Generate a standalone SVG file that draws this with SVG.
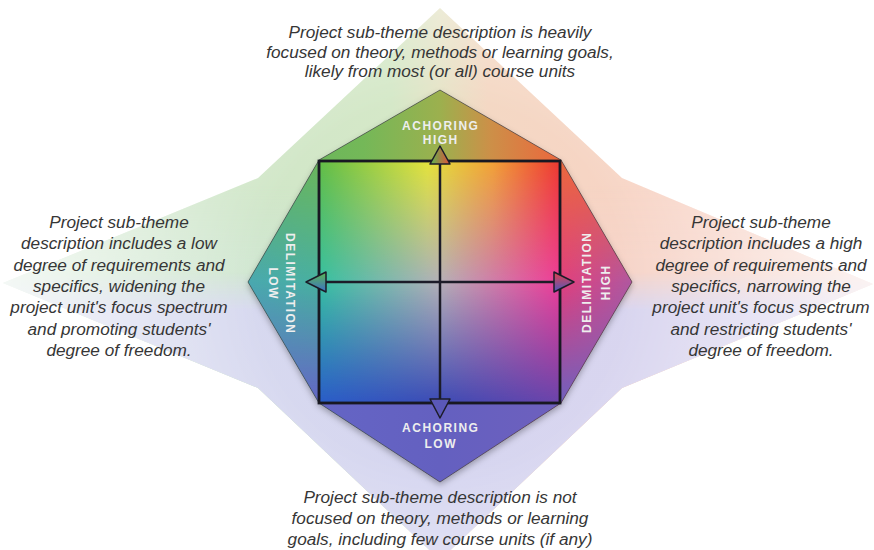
<svg xmlns="http://www.w3.org/2000/svg" width="874" height="550" viewBox="0 0 874 550">
<defs>
<style>
.body{font-family:"Liberation Sans",Arial,sans-serif;font-style:italic;font-size:17.2px;fill:#363636;text-anchor:middle}
.lab{font-family:"Liberation Sans",Arial,sans-serif;font-weight:bold;font-size:12px;letter-spacing:1.5px;fill:#eeeeee;text-anchor:middle}
.ax{stroke:#1c1c28;stroke-width:2.5;fill:none}
.ah{stroke:#1c1c28;stroke-width:1.5;stroke-linejoin:round}
.frame{fill:none;stroke:#181822;stroke-width:2.8}
.edge{fill:none;stroke:#3a3a44;stroke-width:1;stroke-opacity:0.6}
</style>
<linearGradient id="sqTop" gradientUnits="userSpaceOnUse" x1="319" y1="0" x2="560" y2="0">
<stop offset="0" stop-color="#62bd46"/><stop offset="0.45" stop-color="#e4e33c"/><stop offset="0.72" stop-color="#f2a236"/><stop offset="1" stop-color="#ee3830"/>
</linearGradient>
<linearGradient id="sqMid" gradientUnits="userSpaceOnUse" x1="319" y1="0" x2="560" y2="0">
<stop offset="0" stop-color="#36c0a2"/><stop offset="0.5" stop-color="#b4b0b8"/><stop offset="1" stop-color="#ee3c98"/>
</linearGradient>
<linearGradient id="sqBot" gradientUnits="userSpaceOnUse" x1="319" y1="0" x2="560" y2="0">
<stop offset="0" stop-color="#2a5cc8"/><stop offset="0.5" stop-color="#3c4ab4"/><stop offset="1" stop-color="#6a44aa"/>
</linearGradient>
<linearGradient id="dTop" gradientUnits="userSpaceOnUse" x1="248" y1="0" x2="632" y2="0">
<stop offset="0" stop-color="#60b460"/><stop offset="0.3" stop-color="#74b858"/><stop offset="0.5" stop-color="#9cb04e"/><stop offset="0.63" stop-color="#cc9048"/><stop offset="0.8" stop-color="#ea6a3e"/><stop offset="1" stop-color="#f0603c"/>
</linearGradient>
<linearGradient id="dMid" gradientUnits="userSpaceOnUse" x1="248" y1="0" x2="632" y2="0">
<stop offset="0" stop-color="#4aa8b0"/><stop offset="0.18" stop-color="#48b0a0"/><stop offset="0.82" stop-color="#e0407e"/><stop offset="1" stop-color="#b058a0"/>
</linearGradient>
<linearGradient id="dBot" gradientUnits="userSpaceOnUse" x1="248" y1="0" x2="632" y2="0">
<stop offset="0" stop-color="#6468c8"/><stop offset="0.5" stop-color="#6460c0"/><stop offset="1" stop-color="#7460bc"/>
</linearGradient>
<linearGradient id="sTop" gradientUnits="userSpaceOnUse" x1="200" y1="0" x2="680" y2="0">
<stop offset="0" stop-color="#cfe6c8"/><stop offset="0.4" stop-color="#d5e8c8"/><stop offset="0.5" stop-color="#e6e4c8"/><stop offset="0.6" stop-color="#f4d8c4"/><stop offset="1" stop-color="#f8d2c4"/>
</linearGradient>
<linearGradient id="sMid" gradientUnits="userSpaceOnUse" x1="3" y1="0" x2="873" y2="0">
<stop offset="0" stop-color="#d6ead6"/><stop offset="0.35" stop-color="#d0e6d0"/><stop offset="0.65" stop-color="#f6d4c8"/><stop offset="1" stop-color="#f6d6cc"/>
</linearGradient>
<linearGradient id="sBot" gradientUnits="userSpaceOnUse" x1="3" y1="0" x2="873" y2="0">
<stop offset="0" stop-color="#d8dcee"/><stop offset="0.5" stop-color="#d6d6f0"/><stop offset="1" stop-color="#dcd4ee"/>
</linearGradient>
<linearGradient id="rMid" gradientUnits="userSpaceOnUse" x1="0" y1="161" x2="0" y2="282"><stop offset="0" stop-color="#000"/><stop offset="1" stop-color="#fff"/></linearGradient>
<linearGradient id="rBot" gradientUnits="userSpaceOnUse" x1="0" y1="282" x2="0" y2="403"><stop offset="0" stop-color="#000"/><stop offset="1" stop-color="#fff"/></linearGradient>
<linearGradient id="rsMid" gradientUnits="userSpaceOnUse" x1="0" y1="185" x2="0" y2="262"><stop offset="0" stop-color="#000"/><stop offset="1" stop-color="#fff"/></linearGradient>
<linearGradient id="rsBot" gradientUnits="userSpaceOnUse" x1="0" y1="272" x2="0" y2="310"><stop offset="0" stop-color="#000"/><stop offset="1" stop-color="#fff"/></linearGradient>
<radialGradient id="rFade" gradientUnits="userSpaceOnUse" cx="440" cy="284" r="440">
<stop offset="0" stop-color="#fff"/><stop offset="0.42" stop-color="#fff"/><stop offset="1" stop-color="#444"/>
</radialGradient>
<mask id="mMid" maskUnits="userSpaceOnUse" x="0" y="0" width="874" height="550"><rect width="874" height="550" fill="url(#rMid)"/></mask>
<mask id="mBot" maskUnits="userSpaceOnUse" x="0" y="0" width="874" height="550"><rect width="874" height="550" fill="url(#rBot)"/></mask>
<mask id="msMid" maskUnits="userSpaceOnUse" x="0" y="0" width="874" height="550"><rect width="874" height="550" fill="url(#rsMid)"/></mask>
<mask id="msBot" maskUnits="userSpaceOnUse" x="0" y="0" width="874" height="550"><rect width="874" height="550" fill="url(#rsBot)"/></mask>
<mask id="mFade" maskUnits="userSpaceOnUse" x="0" y="0" width="874" height="550"><rect width="874" height="550" fill="url(#rFade)"/></mask>
<clipPath id="cStar"><polygon points="440,8 622,178 873,284 622,388 440,560 258,388 3,283 258,178"/></clipPath>
<clipPath id="cDia"><polygon points="440,90 561,160 632,282 561,403 440,482 319,403 248,282 319,160"/></clipPath>
<clipPath id="cSq"><rect x="319" y="161" width="241" height="242"/></clipPath>
<filter id="shadow" x="-20%" y="-20%" width="140%" height="140%"><feDropShadow dx="0" dy="3" stdDeviation="3" flood-color="#000" flood-opacity="0.3"/></filter>
<linearGradient id="aUp" x1="0" y1="0" x2="1" y2="0"><stop offset="0" stop-color="#5cb850"/><stop offset="1" stop-color="#e0503a"/></linearGradient>
<linearGradient id="aLeft" x1="0" y1="0" x2="0" y2="1"><stop offset="0" stop-color="#5cb850"/><stop offset="1" stop-color="#3a70c8"/></linearGradient>
<linearGradient id="aRight" x1="0" y1="0" x2="0" y2="1"><stop offset="0" stop-color="#e8404a"/><stop offset="1" stop-color="#4a58c0"/></linearGradient>
</defs>

<g id="star" mask="url(#mFade)">
<g clip-path="url(#cStar)">
<rect width="874" height="550" fill="url(#sTop)"/>
<rect width="874" height="550" fill="url(#sMid)" mask="url(#msMid)"/>
<rect width="874" height="550" fill="url(#sBot)" mask="url(#msBot)"/>
</g>
</g>

<g id="diamond">
<polygon points="440,90 561,160 632,282 561,403 440,482 319,403 248,282 319,160" fill="#666" filter="url(#shadow)"/>
<g clip-path="url(#cDia)">
<rect x="240" y="80" width="400" height="410" fill="url(#dTop)"/>
<rect x="240" y="80" width="400" height="410" fill="url(#dMid)" mask="url(#mMid)"/>
<rect x="240" y="80" width="400" height="410" fill="url(#dBot)" mask="url(#mBot)"/>
</g>
<polygon class="edge" points="440,90 561,160 632,282 561,403 440,482 319,403 248,282 319,160"/>
</g>

<g id="matrix">
<g clip-path="url(#cSq)">
<rect x="319" y="161" width="241" height="242" fill="url(#sqTop)"/>
<rect x="319" y="161" width="241" height="242" fill="url(#sqMid)" mask="url(#mMid)"/>
<rect x="319" y="161" width="241" height="242" fill="url(#sqBot)" mask="url(#mBot)"/>
</g>
<rect class="frame" x="319" y="161" width="241" height="242"/>
</g>

<g id="connectors">
<line class="ax" x1="440" y1="162" x2="440" y2="402"/>
<line class="ax" x1="320" y1="282" x2="559" y2="282"/>
<polygon class="ah" points="440,146 430,164 450,164" fill="url(#aUp)"/>
<polygon class="ah" points="440,418 430,399 450,399" fill="#5a58b8"/>
<polygon class="ah" points="306,282 326,272 326,292" fill="url(#aLeft)"/>
<polygon class="ah" points="574,282 554,272 554,292" fill="url(#aRight)"/>
</g>

<g id="label-anchoring-high">
<text class="lab" x="440.75" y="130">ACHORING</text>
<text class="lab" x="440.75" y="144">HIGH</text>
</g>
<g id="label-anchoring-low">
<text class="lab" x="440.75" y="432">ACHORING</text>
<text class="lab" x="440.75" y="448">LOW</text>
</g>
<g id="label-delimitation-low" transform="translate(290,283) rotate(90)">
<text class="lab" x="0.75" y="4.3">DELIMITATION</text>
<text class="lab" x="0.75" y="21.3">LOW</text>
</g>
<g id="label-delimitation-high" transform="translate(587,283) rotate(-90)">
<text class="lab" x="0.75" y="4.3">DELIMITATION</text>
<text class="lab" x="0.75" y="23.3">HIGH</text>
</g>

<g id="text-top">
<text class="body" x="440" y="38">Project sub-theme description is heavily</text>
<text class="body" x="440" y="57.5">focused on theory, methods or learning goals,</text>
<text class="body" x="440" y="77">likely from most (or all) course units</text>
</g>
<g id="text-left">
<text class="body" x="119" y="228">Project sub-theme</text>
<text class="body" x="119" y="249.3">description includes a low</text>
<text class="body" x="119" y="270.6">degree of requirements and</text>
<text class="body" x="119" y="291.9">specifics, widening the</text>
<text class="body" x="119" y="313.2">project unit's focus spectrum</text>
<text class="body" x="119" y="334.5">and promoting students'</text>
<text class="body" x="119" y="355.8">degree of freedom.</text>
</g>
<g id="text-right">
<text class="body" x="761" y="228">Project sub-theme</text>
<text class="body" x="761" y="249.3">description includes a high</text>
<text class="body" x="761" y="270.6">degree of requirements and</text>
<text class="body" x="761" y="291.9">specifics, narrowing the</text>
<text class="body" x="761" y="313.2">project unit's focus spectrum</text>
<text class="body" x="761" y="334.5">and restricting students'</text>
<text class="body" x="761" y="355.8">degree of freedom.</text>
</g>
<g id="text-bottom">
<text class="body" x="440" y="503">Project sub-theme description is not</text>
<text class="body" x="440" y="524">focused on theory, methods or learning</text>
<text class="body" x="440" y="545">goals, including few course units (if any)</text>
</g>
</svg>
